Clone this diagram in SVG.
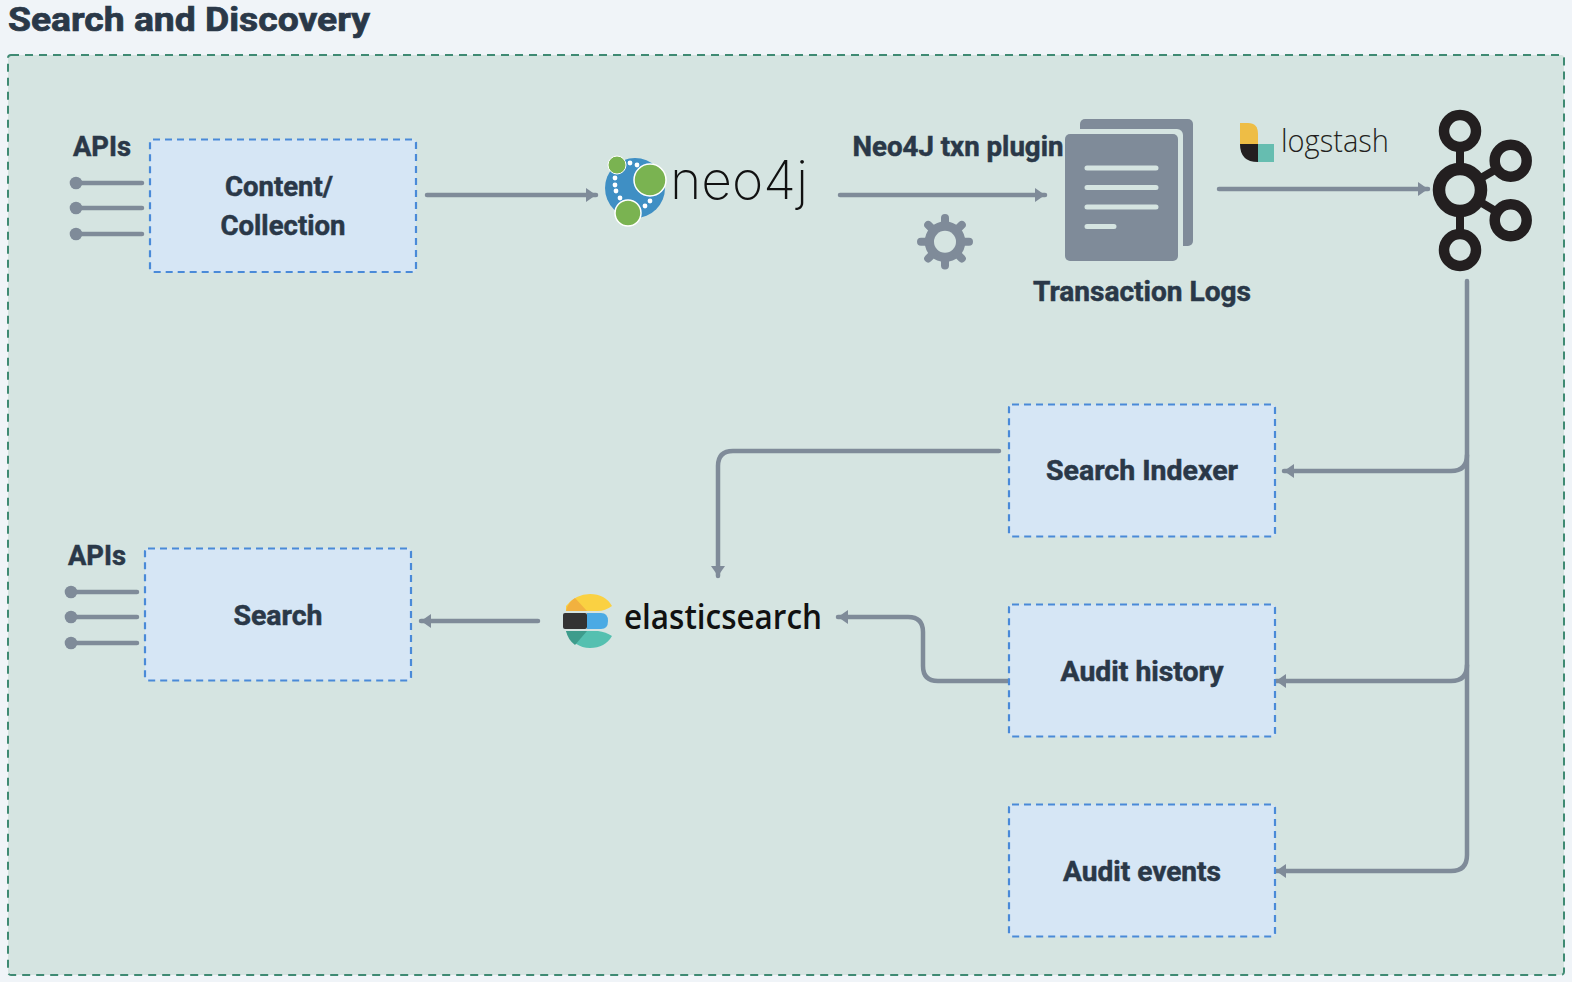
<svg xmlns="http://www.w3.org/2000/svg" width="1572" height="982" viewBox="0 0 1572 982">
<style>
.t{font-family:"Roboto","Liberation Sans",sans-serif;font-weight:700;fill:#2a3848;stroke:#2a3848;stroke-width:.5px;font-size:27px;text-anchor:middle}
.b{fill:#d6e6f5;stroke:#4a8ad8;stroke-width:2.200;stroke-dasharray:7 5}
.c{fill:none;stroke:#7f8b99;stroke-width:4.500;stroke-linecap:round;stroke-linejoin:round}
.f{fill:#7f8b99}
.k{fill:#d5e4e1;stroke:#231f20}
.w{fill:#fff}
</style>
<defs>
<marker id="a" markerUnits="userSpaceOnUse" markerWidth="12" markerHeight="16" refX="10" refY="7" orient="auto"><path d="M0 0L10 7L0 14Z" fill="#7f8b99"/></marker>
</defs>
<rect width="1572" height="982" fill="#f0f4f8"/>
<g id="panel"><rect x="8" y="55" width="1556" height="920" rx="3" fill="#d5e4e1" stroke="#3f8a73" stroke-width="2" stroke-dasharray="8 6"/></g>
<text x="8" y="30.600" class="t" style="text-anchor:start;font-size:33px;stroke-width:.7px" textLength="362" lengthAdjust="spacingAndGlyphs">Search and Discovery</text>
<g id="connectors">
<path class="c" d="M427 195H596" marker-end="url(#a)"/>
<path class="c" d="M840 195H1045" marker-end="url(#a)"/>
<path class="c" d="M1219 189H1428" marker-end="url(#a)"/>
<path class="c" d="M1467 281V855Q1467 871 1451 871H1276" marker-end="url(#a)"/>
<path class="c" d="M1467 455Q1467 471 1451 471H1284" marker-end="url(#a)"/>
<path class="c" d="M1467 665Q1467 681 1451 681H1276" marker-end="url(#a)"/>
<path class="c" d="M999 451H733Q718 451 718 466V576" marker-end="url(#a)"/>
<path class="c" d="M1009 681H938Q923 681 923 666V632Q923 617 908 617H838" marker-end="url(#a)"/>
<path class="c" d="M538 621H421" marker-end="url(#a)"/>
</g>
<g id="apis-top"><text x="102" y="156" class="t" textLength="58" lengthAdjust="spacingAndGlyphs">APIs</text>
<path class="c" d="M76 183H142M76 208H142M76 234H142"/><circle class="f" cx="76" cy="183" r="6.300"/><circle class="f" cx="76" cy="208" r="6.300"/><circle class="f" cx="76" cy="234" r="6.300"/></g>
<g id="content"><rect class="b" x="150" y="139.500" width="266" height="132.500" rx="3"/><text x="279" y="196" class="t" textLength="108" lengthAdjust="spacingAndGlyphs">Content/</text><text x="283" y="235" class="t" textLength="125" lengthAdjust="spacingAndGlyphs">Collection</text></g>
<g id="neo4j">
<circle cx="635" cy="188" r="30" fill="#3f8fc4"/>
<circle cx="617" cy="165" r="9" fill="#7ab351" stroke="#fff"/><circle cx="650" cy="180" r="16" fill="#7ab351" stroke="#fff" stroke-width="1.500"/><circle cx="628" cy="213" r="13" fill="#7ab351" stroke="#fff" stroke-width="1.500"/>
<g class="w"><circle cx="630" cy="163" r="2.400"/><circle cx="637" cy="165" r="2.400"/><circle cx="615" cy="178" r="2.400"/><circle cx="615" cy="185" r="2.400"/><circle cx="616" cy="191" r="2.400"/><circle cx="620" cy="198" r="2.400"/><circle cx="645" cy="206" r="2.400"/><circle cx="650" cy="201" r="2.400"/></g>
<text x="670" y="199" font-family="Inter,sans-serif" font-weight="200" font-size="53" fill="#111" textLength="138" lengthAdjust="spacingAndGlyphs">neo4j</text></g>
<g id="gear"><circle cx="945" cy="241.700" r="15.500" fill="none" stroke="#7f8b99" stroke-width="9.500"/><path class="c" style="stroke-width:8px" d="M945 218V265.500M921 241.700H969M928.200 224.900L961.800 258.500M961.800 224.900L928.200 258.500"/><circle cx="945" cy="241.700" r="11" fill="#d5e4e1"/></g>
<g id="logs"><rect class="f" x="1080" y="119" width="113" height="127" rx="5"/><rect x="1065" y="129" width="118" height="132" rx="6" fill="#d5e4e1"/><rect class="f" x="1065" y="134" width="113" height="127" rx="5"/>
<path d="M1087 168H1156M1087 187.500H1156M1087 207H1156M1087 226.500H1114" stroke="#d5e4e1" stroke-width="5" stroke-linecap="round"/>
<text x="1142" y="301" class="t" textLength="218" lengthAdjust="spacingAndGlyphs">Transaction Logs</text></g>
<text x="958" y="156" class="t" textLength="211" lengthAdjust="spacingAndGlyphs">Neo4J txn plugin</text>
<g id="logstash"><path d="M1240 123H1248Q1258 123 1258 134V144H1240Z" fill="#eebd45"/><path d="M1240 144H1258V162Q1240 162 1240 144Z" fill="#231f20"/><rect x="1258" y="144" width="16" height="18" fill="#66bdb0"/><text x="1281" y="152" font-family="Open Sans,sans-serif" font-weight="300" font-size="31" fill="#231f20" textLength="108" lengthAdjust="spacingAndGlyphs">logstash</text></g>
<g id="kafka"><path d="M1460 131V250M1460 190L1511 160.700M1460 190L1511 220.300" stroke="#231f20" stroke-width="8"/>
<circle class="k" cx="1460" cy="131" r="16" stroke-width="10.500"/><circle class="k" cx="1460" cy="250" r="16" stroke-width="10.500"/><circle class="k" cx="1510.700" cy="160.700" r="16" stroke-width="10.500"/><circle class="k" cx="1510.700" cy="220.300" r="16" stroke-width="10.500"/>
<circle cx="1460" cy="190" r="21" fill="#d5e4e1" stroke="#231f20" stroke-width="12.500"/></g>
<g id="indexer"><rect class="b" x="1009" y="404.500" width="266" height="132" rx="3"/><text x="1142" y="480" class="t" textLength="192" lengthAdjust="spacingAndGlyphs">Search Indexer</text></g>
<g id="history"><rect class="b" x="1009" y="604.500" width="266" height="132" rx="3"/><text x="1142" y="681" class="t" textLength="163" lengthAdjust="spacingAndGlyphs">Audit history</text></g>
<g id="events"><rect class="b" x="1009" y="804.500" width="266" height="132" rx="3"/><text x="1142" y="881" class="t" textLength="158" lengthAdjust="spacingAndGlyphs">Audit events</text></g>
<g id="apis-bottom"><text x="97" y="565" class="t" textLength="58" lengthAdjust="spacingAndGlyphs">APIs</text>
<path class="c" d="M71 592H137M71 617H137M71 643H137"/><circle class="f" cx="71" cy="592" r="6.300"/><circle class="f" cx="71" cy="617" r="6.300"/><circle class="f" cx="71" cy="643" r="6.300"/></g>
<g id="search"><rect class="b" x="145" y="548.500" width="266" height="132" rx="3"/><text x="278" y="625" class="t" textLength="89" lengthAdjust="spacingAndGlyphs">Search</text></g>
<g id="elastic">
<path d="M566 606Q576 594 590 594Q605 594 612 606Q605 611 598 611H566Z" fill="#fad142"/><path d="M566 611Q568 602 575 598L587 611Z" fill="#f2b13f"/>
<rect x="563" y="613" width="24" height="16" rx="2" fill="#333"/><path d="M587 613H601Q608 613 608 621Q608 629 601 629H587Z" fill="#4aaae4"/>
<path d="M566 631H598Q606 632 612 636Q605 648 590 648Q574 648 566 631Z" fill="#55c0b0"/><path d="M566 631H587L575 645Q568 640 566 631Z" fill="#3e9c8c"/>
<text x="624" y="629" font-family="Open Sans,sans-serif" font-weight="600" font-size="34" fill="#111" textLength="198" lengthAdjust="spacingAndGlyphs">elasticsearch</text></g>
</svg>
